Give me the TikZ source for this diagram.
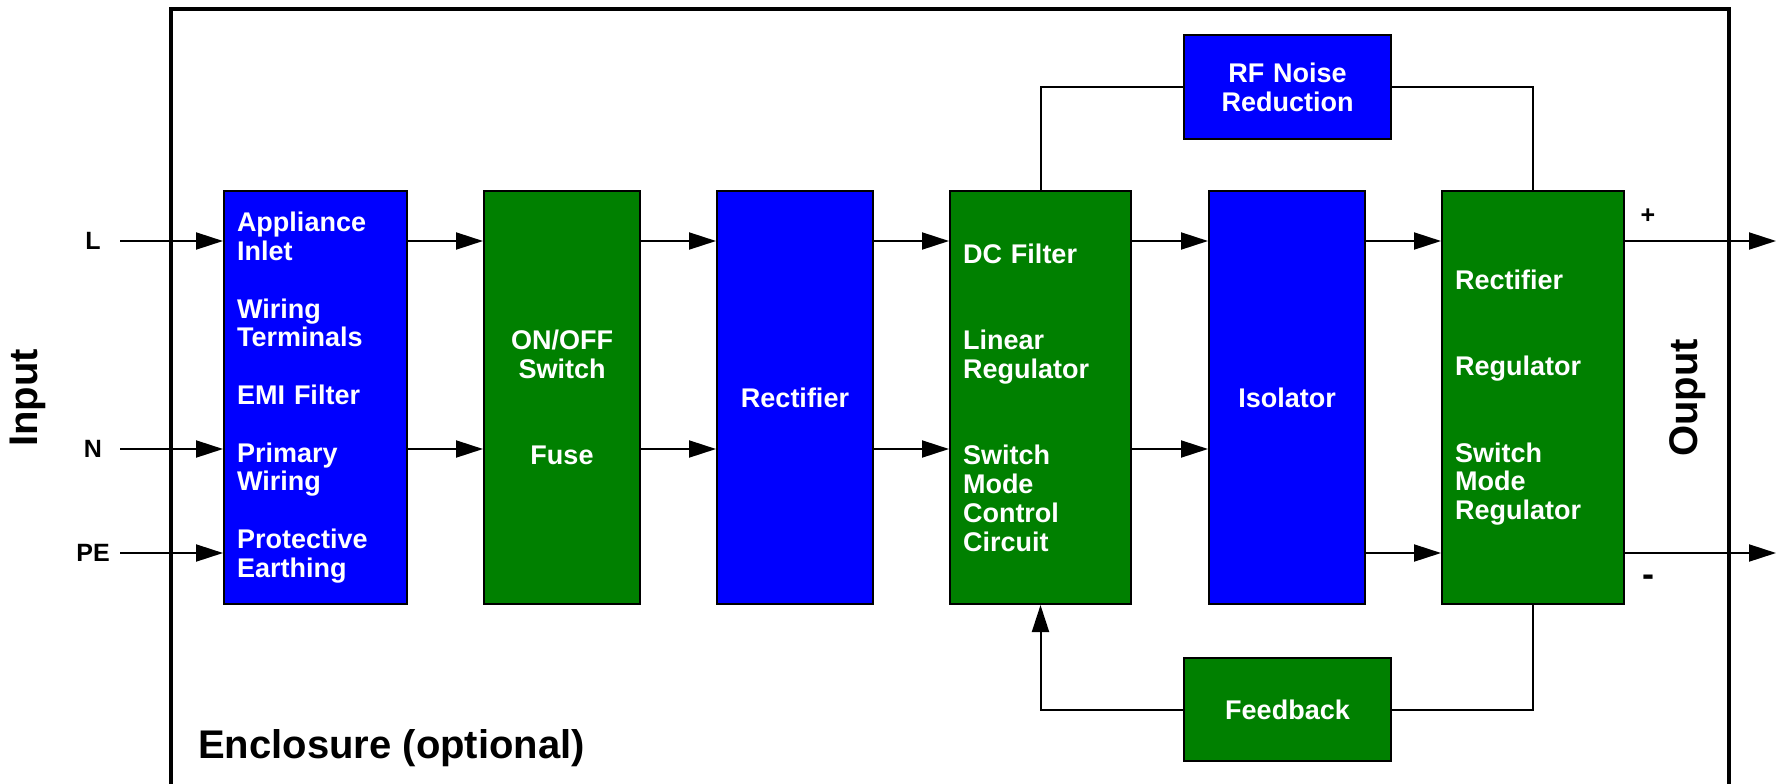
\documentclass[tikz,border=0pt]{standalone}
\usepackage{fontspec}
\setmainfont{Liberation Sans}
\usetikzlibrary{arrows.meta, positioning}
\definecolor{boxblue}{HTML}{0000FF}
\definecolor{boxgreen}{HTML}{008000}
\newcommand{\blkfont}{\bfseries\fontsize{27}{28.8}\selectfont}

\begin{document}
\begin{tikzpicture}[x=1pt, y=-1pt,
    blk/.style={draw=black, line width=2pt, text=white, font=\blkfont,
        inner xsep=13pt, inner ysep=0pt, anchor=north west},
    blueblk/.style={blk, fill=boxblue},
    greenblk/.style={blk, fill=boxgreen},
    lbl/.style={font=\bfseries\fontsize{25}{28}\selectfont, inner sep=0pt},
    side/.style={font=\bfseries\fontsize{40}{44}\selectfont, inner sep=0pt},
    wire/.style={draw=black, line width=2pt},
    arr/.style={wire, -{Triangle[length=27pt, width=17pt]}}]
    \useasboundingbox (0,0) rectangle (1785,784);

    % enclosure, open at the bottom
    \draw[line width=4pt] (171,800) -- (171,9) -- (1729,9) -- (1729,800);
    \node[side, anchor=west] (encl) at (198,748) {Enclosure (optional)};

    \node[side, rotate=90] (input) at (28,398) {Input};
    \node[side, rotate=90] (output) at (1688,398) {Ouput};

    % main chain
    \node[blueblk, minimum width=183pt, minimum height=413pt, text width=157pt, align=left]
        (inlet) at (223,190)
        {Appliance\\Inlet\\[28.8pt]Wiring\\Terminals\\[28.8pt]EMI Filter\\[28.8pt]Primary\\Wiring\\[28.8pt]Protective\\Earthing};
    \node[greenblk, minimum width=156pt, minimum height=413pt, text width=130pt, align=center]
        (switch) at (483,190) {ON/OFF\\Switch\\[57.6pt]Fuse};
    \node[blueblk, minimum width=156pt, minimum height=413pt, text width=130pt, align=center]
        (rect) at (716,190) {Rectifier};
    \node[greenblk, minimum width=181pt, minimum height=413pt, text width=155pt, align=left]
        (dcfilter) at (949,190)
        {DC Filter\\[57.6pt]Linear\\Regulator\\[57.6pt]Switch\\Mode\\Control\\Circuit};
    \node[blueblk, minimum width=156pt, minimum height=413pt, text width=130pt, align=center]
        (isolator) at (1208,190) {Isolator};
    \node[greenblk, minimum width=182pt, minimum height=413pt, text width=156pt, align=left]
        (outreg) at (1441,190)
        {Rectifier\\[57.6pt]Regulator\\[57.6pt]Switch\\Mode\\Regulator};

    \node[blueblk, minimum width=207pt, minimum height=104pt, text width=181pt, align=center]
        (rfnoise) at (1183,34) {RF Noise\\Reduction};
    \node[greenblk, minimum width=207pt, minimum height=103pt, text width=181pt, align=center]
        (feedback) at (1183,657) {Feedback};

    % mains terminals
    \node[lbl] (inL) at (93,241) {L};
    \node[lbl] (inN) at (93,449) {N};
    \node[lbl] (inPE) at (93,553) {PE};

    \draw[arr] ([xshift=27pt]inL.center) -- (inL -| inlet.west);
    \draw[arr] ([xshift=27pt]inN.center) -- (inN -| inlet.west);
    \draw[arr] ([xshift=27pt]inPE.center) -- (inPE -| inlet.west);

    \draw[arr] (inlet.east |- inL) -- (switch.west |- inL);
    \draw[arr] (inlet.east |- inN) -- (switch.west |- inN);
    \draw[arr] (switch.east |- inL) -- (rect.west |- inL);
    \draw[arr] (switch.east |- inN) -- (rect.west |- inN);
    \draw[arr] (rect.east |- inL) -- (dcfilter.west |- inL);
    \draw[arr] (rect.east |- inN) -- (dcfilter.west |- inN);
    \draw[arr] (dcfilter.east |- inL) -- (isolator.west |- inL);
    \draw[arr] (dcfilter.east |- inN) -- (isolator.west |- inN);
    \draw[arr] (isolator.east |- inL) -- (outreg.west |- inL);
    \draw[arr] (isolator.east |- inPE) -- (outreg.west |- inPE);

    % outputs
    \coordinate (outP) at (1776,241);
    \coordinate (outM) at (1776,553);
    \draw[arr] (outreg.east |- outP) -- (outP);
    \draw[arr] (outreg.east |- outM) -- (outM);
    \node[lbl] (plus) at (1648,216) {+};
    \node[lbl, font=\bfseries\fontsize{36}{40}\selectfont] (minus) at (1648,581) {-};

    % RF path and feedback loop
    \draw[wire] (dcfilter.north) |- (rfnoise.west);
    \draw[wire] (rfnoise.east) -| (outreg.north);
    \draw[wire] (outreg.south) |- (feedback.east);
    \draw[arr] (feedback.west) -| (dcfilter.south);
\end{tikzpicture}
\end{document}
